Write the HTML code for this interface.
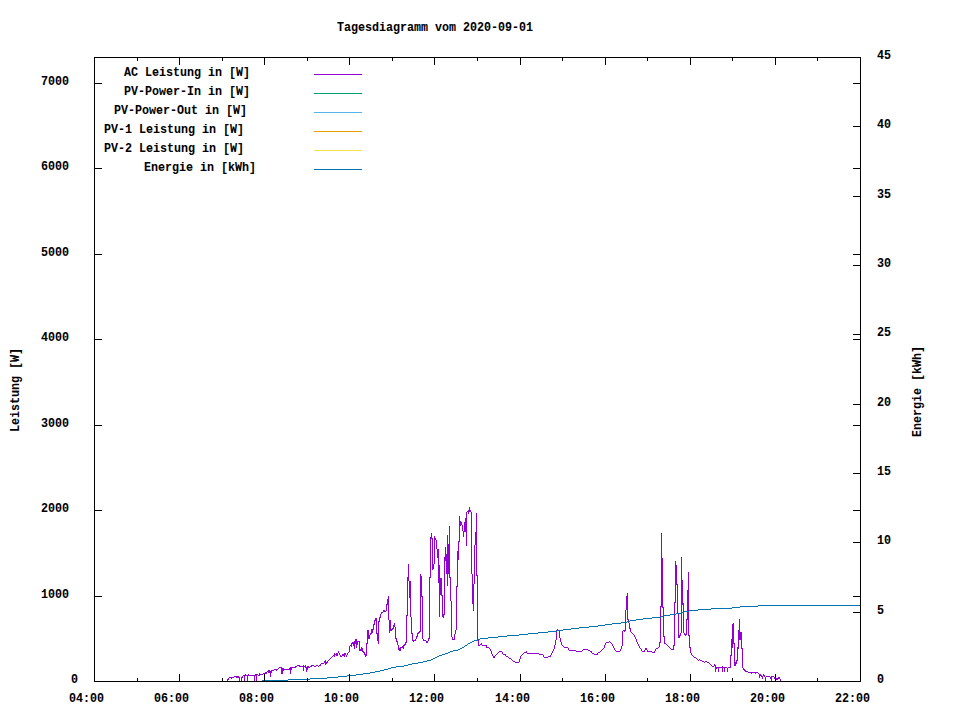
<!DOCTYPE html>
<html lang="de"><head><meta charset="utf-8"><title>Tagesdiagramm vom 2020-09-01</title>
<style>
html,body{margin:0;padding:0;background:#fff;}
body{width:960px;height:720px;position:relative;overflow:hidden;font-family:"Liberation Mono",monospace;}
#chart{position:absolute;left:0;top:0;width:960px;height:720px;}
svg{position:absolute;left:0;top:0;}
.t,.v{position:absolute;white-space:pre;color:#000;height:13px;line-height:13px;margin-top:2px;font-weight:bold;font-size:12px;-webkit-text-stroke:0.06px #000;transform-origin:0 0;}
.t{transform:scaleX(0.9722);}
.v{margin-left:2px;transform:rotate(-90deg) scaleX(0.9722);}
</style></head>
<body>
<div id="chart">
<svg width="960" height="720" viewBox="0 0 960 720" shape-rendering="crispEdges">
<rect width="960" height="720" fill="#fff"/>
<rect x="314" y="74" width="48" height="1" fill="#9400d3"/>
<rect x="314" y="93" width="48" height="1" fill="#009e73"/>
<rect x="314" y="112" width="48" height="1" fill="#56b4e9"/>
<rect x="314" y="131" width="48" height="1" fill="#e69f00"/>
<rect x="314" y="150" width="48" height="1" fill="#f0e442"/>
<rect x="314" y="169" width="48" height="1" fill="#0072b2"/>
<path fill="#9400d3" d="M227 679h1v3h-1zM228 678h1v2h-1zM229 677h1v1h-1zM230 677h1v1h-1zM231 677h1v2h-1zM232 677h1v1h-1zM233 677h1v1h-1zM234 676h1v1h-1zM235 676h1v1h-1zM236 676h1v2h-1zM237 676h1v2h-1zM238 676h1v2h-1zM239 677h1v5h-1zM240 681h1v1h-1zM241 677h1v5h-1zM242 676h1v2h-1zM243 675h1v1h-1zM244 675h1v7h-1zM245 674h1v2h-1zM246 675h1v1h-1zM247 675h1v7h-1zM248 674h1v2h-1zM249 675h1v1h-1zM250 675h1v1h-1zM251 675h1v1h-1zM252 675h1v1h-1zM253 675h1v1h-1zM254 675h1v7h-1zM255 674h1v2h-1zM256 674h1v8h-1zM257 674h1v1h-1zM258 675h1v1h-1zM259 673h1v3h-1zM260 674h1v1h-1zM261 674h1v1h-1zM262 674h1v1h-1zM263 673h1v1h-1zM264 673h1v1h-1zM265 672h1v2h-1zM266 672h1v2h-1zM267 671h1v1h-1zM268 670h1v3h-1zM269 670h1v3h-1zM270 671h1v6h-1zM271 670h1v3h-1zM272 670h1v1h-1zM273 670h1v1h-1zM274 669h1v1h-1zM275 669h1v1h-1zM276 669h1v2h-1zM277 669h1v1h-1zM278 668h1v1h-1zM279 667h1v1h-1zM280 667h1v1h-1zM281 667h1v7h-1zM282 668h1v6h-1zM283 668h1v3h-1zM284 669h1v1h-1zM285 669h1v1h-1zM286 669h1v1h-1zM287 669h1v1h-1zM288 669h1v1h-1zM289 668h1v2h-1zM290 667h1v7h-1zM291 667h1v3h-1zM292 667h1v1h-1zM293 667h1v1h-1zM294 667h1v1h-1zM295 666h1v2h-1zM296 666h1v1h-1zM297 665h1v1h-1zM298 665h1v1h-1zM299 665h1v2h-1zM300 666h1v1h-1zM301 666h1v1h-1zM302 666h1v1h-1zM303 665h1v6h-1zM304 666h1v1h-1zM305 665h1v3h-1zM306 667h1v5h-1zM307 666h1v4h-1zM308 666h1v2h-1zM309 667h1v1h-1zM310 666h1v1h-1zM311 665h1v2h-1zM312 665h1v1h-1zM313 665h1v1h-1zM314 666h1v1h-1zM315 666h1v1h-1zM316 665h1v1h-1zM317 665h1v1h-1zM318 666h1v1h-1zM319 665h1v1h-1zM320 664h1v2h-1zM321 663h1v1h-1zM322 663h1v1h-1zM323 663h1v1h-1zM324 661h1v2h-1zM325 660h1v5h-1zM326 662h1v2h-1zM327 661h1v2h-1zM328 660h1v1h-1zM329 659h1v1h-1zM330 658h1v1h-1zM331 657h1v1h-1zM332 656h1v1h-1zM333 655h1v1h-1zM334 653h1v4h-1zM335 654h1v1h-1zM336 653h1v3h-1zM337 653h1v3h-1zM338 651h1v2h-1zM339 653h1v2h-1zM340 655h1v2h-1zM341 656h1v1h-1zM342 654h1v2h-1zM343 654h1v2h-1zM344 653h1v4h-1zM345 653h1v2h-1zM346 655h1v2h-1zM347 653h1v2h-1zM348 652h1v1h-1zM349 646h1v6h-1zM350 645h1v1h-1zM351 643h1v4h-1zM352 642h1v2h-1zM353 642h1v4h-1zM354 641h1v8h-1zM355 639h1v5h-1zM356 639h1v9h-1zM357 641h1v4h-1zM358 641h1v1h-1zM359 641h1v10h-1zM360 649h1v2h-1zM361 647h1v4h-1zM362 648h1v4h-1zM363 651h1v2h-1zM364 652h1v3h-1zM365 654h1v3h-1zM366 643h1v13h-1zM367 630h1v14h-1zM368 630h1v9h-1zM369 635h1v4h-1zM370 633h1v2h-1zM371 629h1v5h-1zM372 629h1v4h-1zM373 624h1v6h-1zM374 620h1v5h-1zM375 618h1v3h-1zM376 618h1v16h-1zM377 633h1v8h-1zM378 621h1v23h-1zM379 617h1v5h-1zM380 614h1v4h-1zM381 612h1v2h-1zM382 612h1v1h-1zM383 610h1v2h-1zM384 610h1v2h-1zM385 611h1v1h-1zM386 604h1v7h-1zM387 599h1v6h-1zM388 596h1v24h-1zM389 620h1v13h-1zM390 620h1v11h-1zM391 629h1v2h-1zM392 628h1v2h-1zM393 625h1v4h-1zM394 623h1v4h-1zM395 627h1v12h-1zM396 638h1v4h-1zM397 641h1v4h-1zM398 645h1v5h-1zM399 648h1v3h-1zM400 647h1v4h-1zM401 647h1v1h-1zM402 646h1v2h-1zM403 645h1v4h-1zM404 644h1v2h-1zM405 642h1v3h-1zM406 615h1v28h-1zM407 577h1v39h-1zM408 564h1v17h-1zM409 581h1v17h-1zM410 581h1v36h-1zM411 617h1v17h-1zM412 633h1v8h-1zM413 640h1v2h-1zM414 640h1v1h-1zM415 639h1v2h-1zM416 636h1v3h-1zM417 633h1v4h-1zM418 632h1v2h-1zM419 631h1v2h-1zM420 574h1v58h-1zM421 576h1v21h-1zM422 596h1v43h-1zM423 639h1v2h-1zM424 640h1v1h-1zM425 640h1v1h-1zM426 641h1v2h-1zM427 641h1v2h-1zM428 638h1v3h-1zM429 577h1v62h-1zM430 537h1v41h-1zM431 533h1v6h-1zM432 538h1v32h-1zM433 564h1v5h-1zM434 536h1v28h-1zM435 538h1v2h-1zM436 540h1v9h-1zM437 549h1v9h-1zM438 549h1v34h-1zM439 565h1v52h-1zM440 578h1v17h-1zM441 578h1v18h-1zM442 595h1v22h-1zM443 614h1v4h-1zM444 557h1v58h-1zM445 547h1v14h-1zM446 554h1v20h-1zM447 535h1v51h-1zM448 544h1v30h-1zM449 526h1v52h-1zM450 577h1v24h-1zM451 601h1v36h-1zM452 637h1v3h-1zM453 639h1v1h-1zM454 634h1v6h-1zM455 630h1v4h-1zM456 586h1v44h-1zM457 551h1v36h-1zM458 541h1v19h-1zM459 516h1v26h-1zM460 521h1v5h-1zM461 522h1v3h-1zM462 525h1v6h-1zM463 531h1v6h-1zM464 522h1v10h-1zM465 518h1v14h-1zM466 512h1v34h-1zM467 511h1v1h-1zM468 510h1v4h-1zM469 507h1v5h-1zM470 510h1v2h-1zM471 512h1v62h-1zM472 574h1v30h-1zM473 584h1v27h-1zM474 545h1v39h-1zM475 532h1v13h-1zM476 513h1v63h-1zM477 575h1v66h-1zM478 640h1v6h-1zM479 645h1v1h-1zM480 644h1v1h-1zM481 643h1v2h-1zM482 645h1v1h-1zM483 645h1v1h-1zM484 645h1v1h-1zM485 645h1v1h-1zM486 645h1v3h-1zM487 647h1v1h-1zM488 647h1v1h-1zM489 648h1v1h-1zM490 649h1v2h-1zM491 651h1v3h-1zM492 654h1v2h-1zM493 656h1v2h-1zM494 656h1v2h-1zM495 655h1v1h-1zM496 654h1v1h-1zM497 653h1v1h-1zM498 652h1v1h-1zM499 651h1v1h-1zM500 651h1v1h-1zM501 651h1v1h-1zM502 652h1v2h-1zM503 654h1v1h-1zM504 654h1v1h-1zM505 654h1v2h-1zM506 656h1v1h-1zM507 656h1v1h-1zM508 657h1v1h-1zM509 658h1v1h-1zM510 658h1v1h-1zM511 659h1v1h-1zM512 660h1v1h-1zM513 661h1v1h-1zM514 661h1v1h-1zM515 662h1v1h-1zM516 662h1v1h-1zM517 662h1v1h-1zM518 662h1v1h-1zM519 659h1v3h-1zM520 656h1v3h-1zM521 655h1v1h-1zM522 654h1v1h-1zM523 653h1v1h-1zM524 652h1v1h-1zM525 652h1v1h-1zM526 651h1v2h-1zM527 653h1v1h-1zM528 653h1v1h-1zM529 653h1v1h-1zM530 653h1v1h-1zM531 653h1v1h-1zM532 653h1v1h-1zM533 653h1v1h-1zM534 653h1v1h-1zM535 653h1v1h-1zM536 653h1v1h-1zM537 653h1v1h-1zM538 653h1v1h-1zM539 654h1v1h-1zM540 654h1v1h-1zM541 654h1v1h-1zM542 654h1v1h-1zM543 655h1v2h-1zM544 657h1v1h-1zM545 657h1v1h-1zM546 657h1v1h-1zM547 657h1v1h-1zM548 656h1v1h-1zM549 656h1v1h-1zM550 655h1v2h-1zM551 653h1v2h-1zM552 651h1v2h-1zM553 649h1v2h-1zM554 645h1v4h-1zM555 640h1v5h-1zM556 630h1v10h-1zM557 629h1v1h-1zM558 630h1v1h-1zM559 631h1v7h-1zM560 638h1v4h-1zM561 642h1v3h-1zM562 645h1v1h-1zM563 646h1v1h-1zM564 647h1v1h-1zM565 647h1v1h-1zM566 647h1v1h-1zM567 647h1v1h-1zM568 648h1v2h-1zM569 650h1v1h-1zM570 650h1v1h-1zM571 650h1v1h-1zM572 650h1v1h-1zM573 650h1v1h-1zM574 650h1v1h-1zM575 650h1v1h-1zM576 651h1v1h-1zM577 651h1v1h-1zM578 651h1v1h-1zM579 651h1v1h-1zM580 651h1v1h-1zM581 651h1v1h-1zM582 650h1v1h-1zM583 649h1v1h-1zM584 649h1v1h-1zM585 649h1v1h-1zM586 649h1v1h-1zM587 649h1v1h-1zM588 650h1v1h-1zM589 650h1v1h-1zM590 651h1v1h-1zM591 651h1v2h-1zM592 653h1v1h-1zM593 653h1v1h-1zM594 654h1v1h-1zM595 654h1v1h-1zM596 654h1v1h-1zM597 653h1v2h-1zM598 652h1v1h-1zM599 652h1v1h-1zM600 651h1v1h-1zM601 650h1v1h-1zM602 649h1v1h-1zM603 648h1v1h-1zM604 645h1v3h-1zM605 643h1v2h-1zM606 642h1v1h-1zM607 642h1v1h-1zM608 642h1v1h-1zM609 641h1v1h-1zM610 642h1v1h-1zM611 643h1v1h-1zM612 644h1v2h-1zM613 646h1v2h-1zM614 648h1v2h-1zM615 650h1v1h-1zM616 651h1v1h-1zM617 651h1v1h-1zM618 651h1v1h-1zM619 651h1v1h-1zM620 649h1v2h-1zM621 646h1v3h-1zM622 631h1v15h-1zM623 630h1v1h-1zM624 630h1v2h-1zM625 610h1v21h-1zM626 596h1v14h-1zM627 593h1v27h-1zM628 619h1v4h-1zM629 623h1v6h-1zM630 628h1v4h-1zM631 632h1v1h-1zM632 633h1v1h-1zM633 634h1v1h-1zM634 635h1v2h-1zM635 637h1v2h-1zM636 639h1v3h-1zM637 642h1v2h-1zM638 644h1v2h-1zM639 646h1v2h-1zM640 648h1v1h-1zM641 649h1v2h-1zM642 651h1v1h-1zM643 651h1v1h-1zM644 650h1v2h-1zM645 648h1v2h-1zM646 648h1v2h-1zM647 650h1v2h-1zM648 651h1v1h-1zM649 651h1v1h-1zM650 651h1v1h-1zM651 651h1v1h-1zM652 652h1v1h-1zM653 652h1v1h-1zM654 651h1v2h-1zM655 649h1v2h-1zM656 648h1v1h-1zM657 648h1v1h-1zM658 647h1v1h-1zM659 642h1v5h-1zM660 606h1v37h-1zM661 533h1v74h-1zM662 558h1v50h-1zM663 607h1v30h-1zM664 636h1v8h-1zM665 643h1v1h-1zM666 644h1v1h-1zM667 645h1v1h-1zM668 646h1v1h-1zM669 647h1v1h-1zM670 648h1v1h-1zM671 649h1v1h-1zM672 649h1v1h-1zM673 645h1v5h-1zM674 602h1v44h-1zM675 561h1v42h-1zM676 565h1v20h-1zM677 584h1v30h-1zM678 613h1v25h-1zM679 635h1v3h-1zM680 633h1v3h-1zM681 557h1v76h-1zM682 580h1v25h-1zM683 603h1v30h-1zM684 633h1v2h-1zM685 634h1v2h-1zM686 619h1v16h-1zM687 590h1v30h-1zM688 572h1v64h-1zM689 635h1v13h-1zM690 647h1v6h-1zM691 653h1v2h-1zM692 655h1v1h-1zM693 656h1v1h-1zM694 657h1v1h-1zM695 657h1v1h-1zM696 658h1v1h-1zM697 659h1v1h-1zM698 660h1v1h-1zM699 659h1v1h-1zM700 660h1v1h-1zM701 660h1v1h-1zM702 661h1v1h-1zM703 661h1v1h-1zM704 662h1v1h-1zM705 661h1v1h-1zM706 661h1v1h-1zM707 662h1v1h-1zM708 662h1v1h-1zM709 663h1v1h-1zM710 664h1v1h-1zM711 665h1v1h-1zM712 666h1v1h-1zM713 666h1v1h-1zM714 664h1v2h-1zM715 665h1v7h-1zM716 667h1v2h-1zM717 667h1v1h-1zM718 667h1v5h-1zM719 667h1v1h-1zM720 667h1v1h-1zM721 667h1v1h-1zM722 666h1v6h-1zM723 667h1v1h-1zM724 667h1v5h-1zM725 667h1v1h-1zM726 667h1v1h-1zM727 668h1v4h-1zM728 667h1v1h-1zM729 667h1v1h-1zM730 655h1v13h-1zM731 639h1v17h-1zM732 624h1v24h-1zM733 623h1v21h-1zM734 643h1v23h-1zM735 662h1v4h-1zM736 660h1v4h-1zM737 647h1v14h-1zM738 630h1v19h-1zM739 619h1v21h-1zM740 632h1v8h-1zM741 632h1v17h-1zM742 648h1v20h-1zM743 668h1v2h-1zM744 669h1v2h-1zM745 670h1v2h-1zM746 671h1v1h-1zM747 671h1v1h-1zM748 672h1v1h-1zM749 672h1v1h-1zM750 672h1v1h-1zM751 672h1v2h-1zM752 672h1v1h-1zM753 672h1v1h-1zM754 672h1v1h-1zM755 672h1v2h-1zM756 672h1v1h-1zM757 672h1v1h-1zM758 673h1v1h-1zM759 674h1v4h-1zM760 674h1v2h-1zM761 675h1v2h-1zM762 676h1v3h-1zM763 674h1v2h-1zM764 675h1v2h-1zM765 677h1v5h-1zM766 676h1v1h-1zM767 676h1v1h-1zM768 676h1v1h-1zM769 676h1v1h-1zM770 677h1v2h-1zM771 676h1v6h-1zM772 676h1v1h-1zM773 676h1v1h-1zM774 677h1v2h-1zM775 678h1v2h-1zM776 678h1v2h-1zM777 678h1v2h-1zM778 677h1v2h-1zM779 677h1v2h-1zM780 679h1v3h-1z"/>
<path fill="#0072b2" d="M758 605h103v1h-103zM740 606h18v1h-18zM732 607h8v1h-8zM711 608h21v1h-21zM698 609h13v1h-13zM689 610h9v1h-9zM684 611h5v1h-5zM681 612h3v1h-3zM676 613h5v1h-5zM670 614h6v1h-6zM663 615h7v1h-7zM661 616h2v1h-2zM652 617h9v1h-9zM643 618h9v1h-9zM636 619h7v1h-7zM630 620h6v1h-6zM627 621h3v1h-3zM621 622h6v1h-6zM612 623h9v1h-9zM605 624h7v1h-7zM598 625h7v1h-7zM589 626h9v1h-9zM579 627h10v1h-10zM571 628h8v1h-8zM563 629h8v1h-8zM557 630h6v1h-6zM548 631h9v1h-9zM538 632h10v1h-10zM528 633h10v1h-10zM519 634h9v1h-9zM507 635h12v1h-12zM498 636h9v1h-9zM488 637h10v1h-10zM480 638h8v1h-8zM478 639h2v1h-2zM474 640h4v1h-4zM472 641h2v1h-2zM470 642h2v1h-2zM468 643h2v1h-2zM467 644h1v1h-1zM465 645h2v1h-2zM464 646h1v1h-1zM462 647h2v1h-2zM460 648h2v1h-2zM458 649h2v1h-2zM453 650h5v1h-5zM450 651h3v1h-3zM448 652h2v1h-2zM445 653h3v1h-3zM442 654h3v1h-3zM439 655h3v1h-3zM437 656h2v1h-2zM435 657h2v1h-2zM433 658h2v1h-2zM431 659h2v1h-2zM427 660h4v1h-4zM423 661h4v1h-4zM418 662h5v1h-5zM412 663h6v1h-6zM408 664h4v1h-4zM404 665h4v1h-4zM396 666h8v1h-8zM391 667h5v1h-5zM388 668h3v1h-3zM384 669h4v1h-4zM380 670h4v1h-4zM375 671h5v1h-5zM370 672h5v1h-5zM363 673h7v1h-7zM356 674h7v1h-7zM347 675h9v1h-9zM338 676h9v1h-9zM327 677h11v1h-11zM310 678h17v1h-17zM288 679h22v1h-22zM262 680h26v1h-26z"/>
<path fill="#000" d="M94 57h767v1h-767zM94 681h767v1h-767zM94 57h1v625h-1zM860 57h1v625h-1zM137 57h1v4h-1zM137 678h1v4h-1zM179 57h1v8h-1zM179 674h1v8h-1zM222 57h1v4h-1zM222 678h1v4h-1zM264 57h1v8h-1zM264 674h1v8h-1zM307 57h1v4h-1zM307 678h1v4h-1zM349 57h1v8h-1zM349 674h1v8h-1zM392 57h1v4h-1zM392 678h1v4h-1zM434 57h1v8h-1zM434 674h1v8h-1zM477 57h1v4h-1zM477 678h1v4h-1zM520 57h1v8h-1zM520 674h1v8h-1zM562 57h1v4h-1zM562 678h1v4h-1zM605 57h1v8h-1zM605 674h1v8h-1zM647 57h1v4h-1zM647 678h1v4h-1zM690 57h1v8h-1zM690 674h1v8h-1zM732 57h1v4h-1zM732 678h1v4h-1zM775 57h1v8h-1zM775 674h1v8h-1zM817 57h1v4h-1zM817 678h1v4h-1zM94 596h8v1h-8zM853 596h8v1h-8zM94 510h8v1h-8zM853 510h8v1h-8zM94 425h8v1h-8zM853 425h8v1h-8zM94 339h8v1h-8zM853 339h8v1h-8zM94 254h8v1h-8zM853 254h8v1h-8zM94 168h8v1h-8zM853 168h8v1h-8zM94 83h8v1h-8zM853 83h8v1h-8zM853 612h8v1h-8zM853 542h8v1h-8zM853 473h8v1h-8zM853 404h8v1h-8zM853 334h8v1h-8zM853 265h8v1h-8zM853 196h8v1h-8zM853 126h8v1h-8z"/>
</svg>
<div class="t" style="left:337px;top:20px">Tagesdiagramm vom 2020-09-01</div>
<div class="t" style="left:69px;top:691px">04:00</div>
<div class="t" style="left:154px;top:691px">06:00</div>
<div class="t" style="left:239px;top:691px">08:00</div>
<div class="t" style="left:324px;top:691px">10:00</div>
<div class="t" style="left:409px;top:691px">12:00</div>
<div class="t" style="left:495px;top:691px">14:00</div>
<div class="t" style="left:580px;top:691px">16:00</div>
<div class="t" style="left:665px;top:691px">18:00</div>
<div class="t" style="left:750px;top:691px">20:00</div>
<div class="t" style="left:835px;top:691px">22:00</div>
<div class="t" style="left:71px;top:672px">0</div>
<div class="t" style="left:41px;top:587px">1000</div>
<div class="t" style="left:41px;top:501px">2000</div>
<div class="t" style="left:41px;top:416px">3000</div>
<div class="t" style="left:41px;top:330px">4000</div>
<div class="t" style="left:41px;top:245px">5000</div>
<div class="t" style="left:41px;top:159px">6000</div>
<div class="t" style="left:41px;top:74px">7000</div>
<div class="t" style="left:877px;top:672px">0</div>
<div class="t" style="left:877px;top:603px">5</div>
<div class="t" style="left:877px;top:533px">10</div>
<div class="t" style="left:877px;top:464px">15</div>
<div class="t" style="left:877px;top:395px">20</div>
<div class="t" style="left:877px;top:325px">25</div>
<div class="t" style="left:877px;top:256px">30</div>
<div class="t" style="left:877px;top:187px">35</div>
<div class="t" style="left:877px;top:117px">40</div>
<div class="t" style="left:877px;top:48px">45</div>
<div class="t" style="left:124px;top:65px">AC Leistung in [W]</div>
<div class="t" style="left:124px;top:84px">PV-Power-In in [W]</div>
<div class="t" style="left:114px;top:103px">PV-Power-Out in [W]</div>
<div class="t" style="left:104px;top:122px">PV-1 Leistung in [W]</div>
<div class="t" style="left:104px;top:141px">PV-2 Leistung in [W]</div>
<div class="t" style="left:144px;top:160px">Energie in [kWh]</div>
<div class="v" style="left:8px;top:430px">Leistung [W]</div>
<div class="v" style="left:910px;top:435px">Energie [kWh]</div>
</div>
</body></html>
